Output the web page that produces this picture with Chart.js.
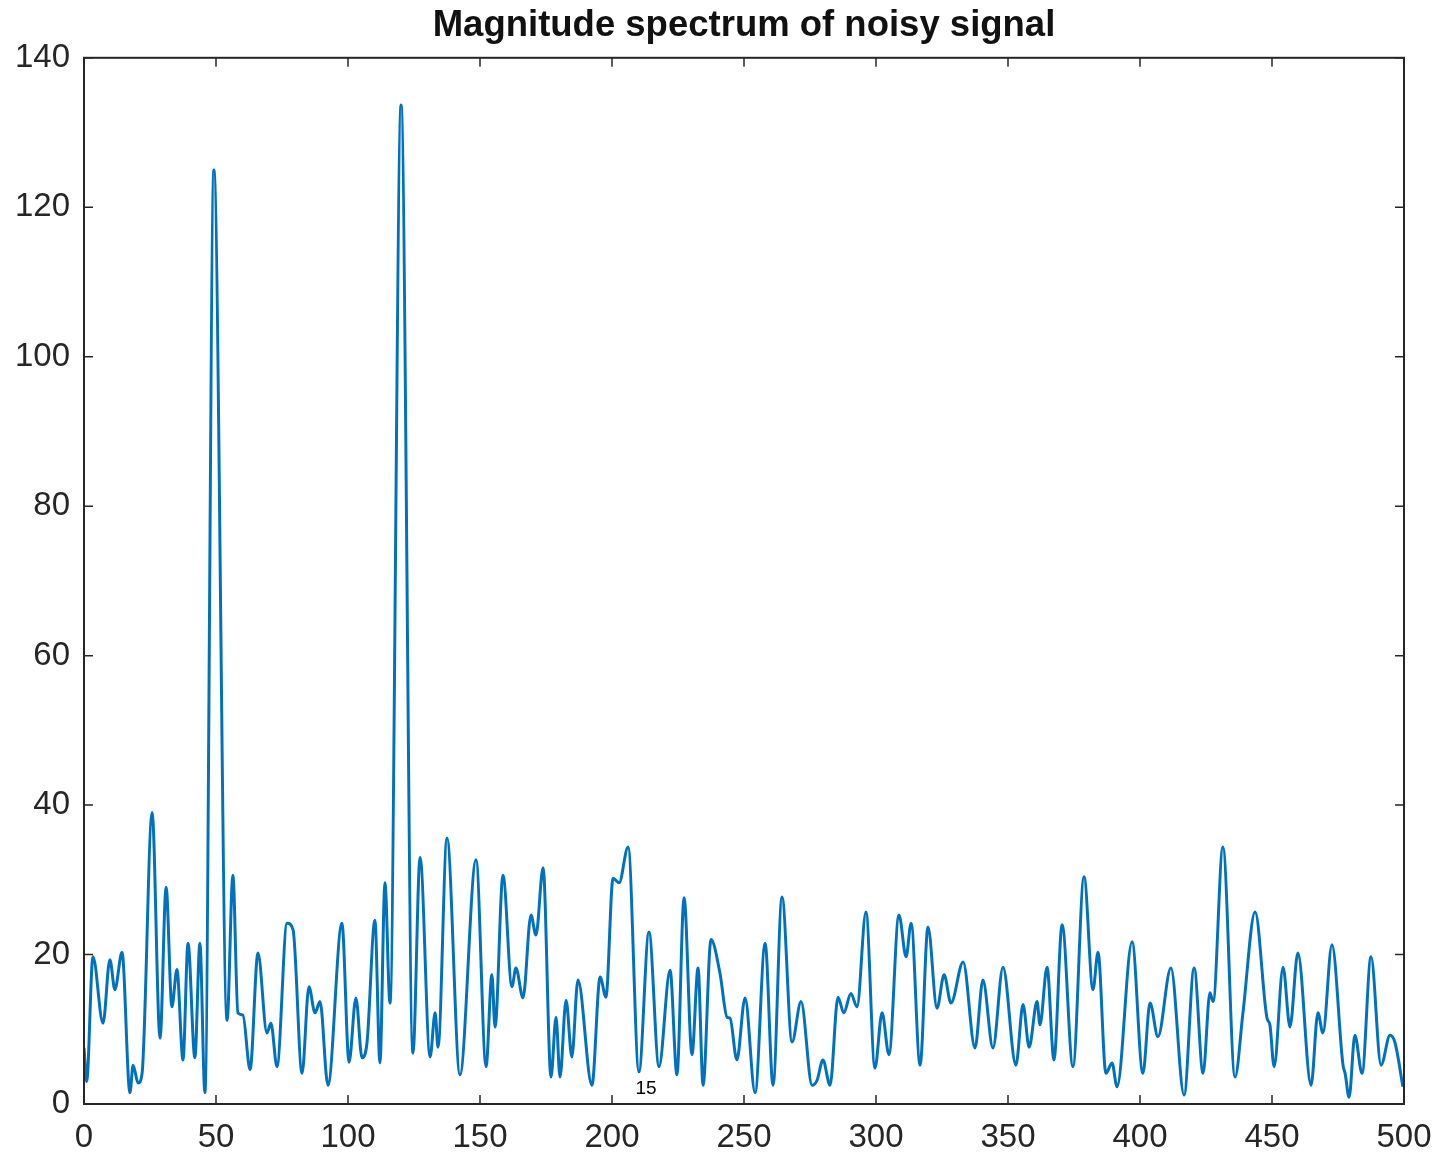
<!DOCTYPE html>
<html>
<head>
<meta charset="utf-8">
<title>Magnitude spectrum of noisy signal</title>
<script src="https://cdn.jsdelivr.net/npm/chart.js@4/dist/chart.umd.min.js"></script>
<style>
    html, body { margin: 0; padding: 0; background: #fff; }
    canvas { display: block; }
</style>
</head>
<body>
<canvas id="grafico" width="1446" height="1154"></canvas>
<script>
// valores (frecuencia, magnitud)
const frecuencias = [
    0, 1, 3.4, 7.2, 9.8, 11.7, 14.4, 17.4, 18.6, 20.5, 22, 25.8, 28.8, 31.1, 33.3, 35.2, 37.5, 39.4, 42, 43.9,
    45.8, 49.2, 54.2, 56.4, 58.3, 60.2, 62.9, 65.9, 69.3, 70.8, 73.1, 76.9, 79.2, 82.6, 85.2, 87.5, 89.4, 92.4,
    97.7, 100.4, 103, 105.3, 107.2, 110.2, 112.1, 114, 115.9, 120.1, 124.6, 127.3, 131.1, 133, 134.1, 137.5,
    142.4, 148.5, 152.3, 154.5, 155.7, 158.7, 162.1, 163.6, 166.3, 169.3, 171.2, 173.9, 176.9, 178.8, 180.3,
    182.6, 184.8, 187.1, 192.4, 195.5, 197.7, 200.4, 202.7, 206.1, 210.2, 214, 217.8, 222, 224.6, 227.3, 230.3,
    232.6, 234.5, 237.5, 240.9, 243.6, 244.7, 247.3, 250.4, 254.2, 258, 261, 264.4, 268.2, 271.6, 275.8, 277.7,
    279.9, 282.6, 285.6, 287.8, 290.5, 292.8, 296.2, 299.6, 302.3, 304.9, 308.7, 311.4, 313.3, 316.7, 319.7,
    323.1, 325.8, 328.4, 333, 337.5, 340.5, 344.3, 348.1, 353, 355.7, 358, 361, 362.1, 364.8, 367.4, 370.5,
    374.6, 378.8, 382.2, 384.1, 387.1, 389.4, 391.3, 397, 401.1, 403.8, 406.8, 411.7, 416.7, 420.5, 423.9,
    426.5, 427.7, 431.4, 436, 439, 443.6, 448.1, 449.2, 450.8, 454.2, 456.8, 459.8, 464.8, 467.4, 469.3, 472.7,
    476.9, 477.7, 479.2, 481.4, 484.1, 487.5, 491.3, 494.7, 496.6, 499.6
];
const magnitudes = [
    7.5, 3, 19.7, 10.8, 19.3, 15.3, 20.3, 1.5, 5.2, 2.8, 4.1, 39, 8.8, 29, 13, 18, 5.9, 21.5, 6.2, 21.5,
    1.5, 125, 11.2, 30.6, 12.2, 11.9, 4.6, 20.2, 9.5, 10.8, 5, 24.2, 23.3, 4.1, 15.7, 12.2, 13.7, 2.5,
    24.2, 5.6, 14.2, 6.2, 8.2, 24.6, 5.5, 29.6, 13.5, 133.7, 6.8, 33, 6.3, 12.2, 7.6, 35.6,
    3.9, 32.7, 5, 17.3, 10.3, 30.6, 15.7, 18.2, 14.2, 25.3, 22.6, 31.6, 3.6, 11.6, 3.6,
    13.9, 6.3, 16.6, 2.5, 17, 14.3, 30.2, 29.6, 34.4, 4.3, 23, 5, 17.9, 3.9, 27.6, 6.6,
    18.2, 2.5, 22, 17.5, 11.6, 11.5, 5.9, 14.2, 1.5, 21.5, 2.5, 27.7, 8.3, 13.7, 2.5, 3.2,
    5.9, 2.5, 14.3, 12.2, 14.8, 13, 25.7, 4.8, 12.2, 6.6, 25.3, 19.7, 24.2, 5.2, 23.7,
    12.8, 17.3, 13.5, 19, 7.5, 16.6, 7.5, 18.3, 5.2, 13.3, 7.6, 13.7, 10.6, 18.3, 5.9, 24,
    5, 30.4, 15.3, 20.3, 4.1, 5.5, 2.3, 21.7, 4.1, 13.5, 9, 18.2, 1.2, 18.2, 4.1,
    14.9, 13.7, 34.4, 3.6, 12.2, 25.7, 11.5, 10.6, 5, 18.3, 10.3, 20.2, 2.5, 12.2, 9.5, 21.3,
    5.2, 4.1, 0.9, 9.2, 4.1, 19.7, 5.2, 9.2, 8.2, 2.3
];
const ticksX = [0, 50, 100, 150, 200, 250, 300, 350, 400, 450, 500];
const ticksY = [0, 20, 40, 60, 80, 100, 120, 140];
const titulo = "Magnitude spectrum of noisy signal";
const nota = { texto: "15", x: 212.9, y: 2.1 };

const fuente = '"Liberation Sans", Arial, Helvetica, sans-serif';
const grisEjes = "#262626";

// marco tipo matlab: caja completa con marcas hacia adentro
const marcoEjes = {
    id: "marcoEjes",
    afterDatasetsDraw(chart) {
        const { ctx, chartArea: a, scales } = chart;
        const sx = scales.x;
        const sy = scales.y;
        const largo = 9;
        ctx.save();
        ctx.strokeStyle = grisEjes;
        ctx.lineWidth = 1.5;
        ctx.beginPath();
        ticksX.forEach(v => {
            const px = sx.getPixelForValue(v);
            ctx.moveTo(px, a.bottom);
            ctx.lineTo(px, a.bottom - largo);
            ctx.moveTo(px, a.top);
            ctx.lineTo(px, a.top + largo);
        });
        ticksY.forEach(v => {
            const py = sy.getPixelForValue(v);
            ctx.moveTo(a.left, py);
            ctx.lineTo(a.left + largo, py);
            ctx.moveTo(a.right, py);
            ctx.lineTo(a.right - largo, py);
        });
        ctx.stroke();
        ctx.lineWidth = 2;
        ctx.strokeRect(a.left, a.top, a.right - a.left, a.bottom - a.top);

        ctx.fillStyle = "#000";
        ctx.font = `19px ${fuente}`;
        ctx.textAlign = "center";
        ctx.textBaseline = "middle";
        ctx.fillText(nota.texto, sx.getPixelForValue(nota.x), sy.getPixelForValue(nota.y));
        ctx.restore();
    }
};

new Chart(document.getElementById("grafico"), {
    type: "line",
    data: {
        datasets: [{
            data: frecuencias.map((f, i) => ({ x: f, y: magnitudes[i] })),
            borderColor: "#0072BD",
            borderWidth: 3,
            pointRadius: 0,
            cubicInterpolationMode: "monotone",
            fill: false
        }]
    },
    options: {
        responsive: false,
        animation: false,
        layout: { padding: { left: 0, right: 42, top: 0, bottom: 0 } },
        plugins: {
            legend: { display: false },
            tooltip: { enabled: false },
            title: {
                display: true,
                fullSize: false,
                text: titulo,
                color: "#111",
                font: { family: fuente, size: 36.5, weight: "bold" },
                padding: { top: 4, bottom: 10 }
            }
        },
        scales: {
            x: {
                type: "linear",
                min: 0,
                max: 500,
                afterBuildTicks: s => { s.ticks = ticksX.map(v => ({ value: v })); },
                afterFit: s => { s.height = 50; },
                grid: { display: false, drawTicks: false },
                border: { display: false },
                ticks: { color: grisEjes, padding: 3, maxRotation: 0, font: { family: fuente, size: 33, lineHeight: 1.9 } }
            },
            y: {
                type: "linear",
                min: 0,
                max: 140,
                afterBuildTicks: s => { s.ticks = ticksY.map(v => ({ value: v })); },
                afterFit: s => { s.width = 84; },
                grid: { display: false, drawTicks: false },
                border: { display: false },
                ticks: { color: grisEjes, padding: 14, font: { family: fuente, size: 33 } }
            }
        }
    },
    plugins: [marcoEjes]
});
</script>
</body>
</html>
